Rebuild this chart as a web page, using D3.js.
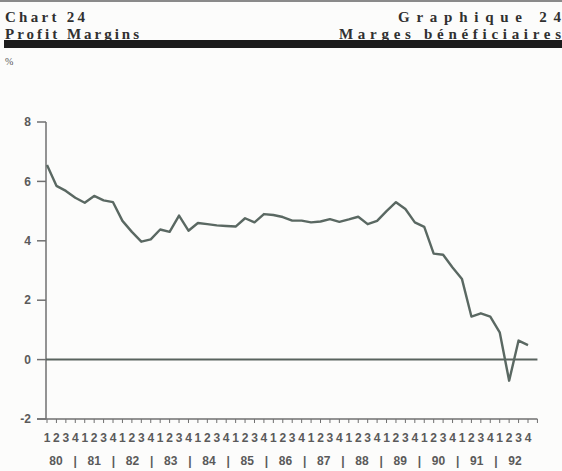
<!DOCTYPE html>
<html>
<head>
<meta charset="utf-8">
<script src="https://cdn.jsdelivr.net/npm/d3@7"></script>
<style>
  body { margin: 0; background: #fcfcfb; }
  svg { display: block; }
  .hdr { font-family: "Liberation Serif", "DejaVu Serif", serif; font-weight: bold; font-size: 15px; fill: #303030; }
  .tick-label { font-family: "Liberation Sans", Arial, sans-serif; font-weight: bold; font-size: 12px; fill: #5a5a5a; }
</style>
</head>
<body>
<script>
// quarterly profit margins, 1980Q1 .. 1992Q4 (%)
const years = ["80", "81", "82", "83", "84", "85", "86", "87", "88", "89", "90", "91", "92"];
const quarterLabels = ["1", "2", "3", "4"];
const margins = [
  6.55, 5.85, 5.68, 5.45, 5.28, 5.51, 5.36, 5.30,   // 80-81
  4.67, 4.30, 3.97, 4.05, 4.38, 4.30, 4.85, 4.34,   // 82-83
  4.60, 4.56, 4.52, 4.50, 4.48, 4.76, 4.62, 4.90,   // 84-85
  4.87, 4.80, 4.68, 4.68, 4.62, 4.65, 4.73, 4.64,   // 86-87
  4.72, 4.81, 4.56, 4.67, 5.00, 5.30, 5.07, 4.62,   // 88-89
  4.47, 3.57, 3.53, 3.10, 2.71, 1.45, 1.56, 1.45,   // 90-91
  0.92, -0.71, 0.64, 0.49                           // 92
];
const yTicks = [-2, 0, 2, 4, 6, 8];

const width = 562, height = 471;
const svg = d3.select("body").append("svg")
    .attr("width", width)
    .attr("height", height);

/* ------- HEADER -------*/
svg.append("line")
    .attr("x1", 0).attr("x2", width)
    .attr("y1", 1).attr("y2", 1)
    .attr("stroke", "#8a8a8a").attr("stroke-width", 2);

// title texts are stretched to the spans seen on the printed page
svg.append("text").attr("class", "hdr").attr("x", 5).attr("y", 22)
    .attr("textLength", 80).attr("lengthAdjust", "spacing").text("Chart 24");
svg.append("text").attr("class", "hdr").attr("x", 5).attr("y", 39)
    .attr("textLength", 134).attr("lengthAdjust", "spacing").text("Profit Margins");
svg.append("text").attr("class", "hdr").attr("x", 561).attr("y", 22)
    .style("text-anchor", "end")
    .attr("textLength", 163).attr("lengthAdjust", "spacing").text("Graphique 24");
svg.append("text").attr("class", "hdr").attr("x", 561).attr("y", 39)
    .style("text-anchor", "end")
    .attr("textLength", 222).attr("lengthAdjust", "spacing").text("Marges bénéficiaires");

svg.append("rect")
    .attr("x", 4).attr("y", 40)
    .attr("width", width - 4).attr("height", 8)
    .attr("fill", "#1c1c1c");

svg.append("text")
    .attr("x", 5).attr("y", 65)
    .style("font-family", "Liberation Serif, serif")
    .style("font-size", "10px")
    .style("fill", "#555")
    .text("%");

/* ------- SCALES -------*/
const x = d3.scaleLinear().domain([0, margins.length - 1]).range([47, 528]);
const y = d3.scaleLinear().domain([-2, 8]).range([419, 122]);
const axisColor = "#707070";

/* ------- Y AXIS -------*/
const yAxis = svg.append("g");
yAxis.append("line")
    .attr("x1", 46).attr("x2", 46)
    .attr("y1", y(8)).attr("y2", y(-2))
    .attr("stroke", axisColor).attr("stroke-width", 1.5);

yAxis.selectAll(".ytick")
    .data(yTicks)
    .enter()
    .append("line")
    .attr("x1", 37).attr("x2", 46)
    .attr("y1", d => y(d)).attr("y2", d => y(d))
    .attr("stroke", axisColor).attr("stroke-width", 1.5);

yAxis.selectAll(".ylab")
    .data(yTicks)
    .enter()
    .append("text")
    .attr("class", "tick-label")
    .attr("x", 31)
    .attr("y", d => y(d))
    .attr("dy", ".35em")
    .style("text-anchor", "end")
    .text(d => d);

/* ------- X AXIS -------*/
const nTicks = d3.range(0, margins.length + 1);
svg.append("line")
    .attr("x1", 37).attr("x2", x(margins.length))
    .attr("y1", y(-2)).attr("y2", y(-2))
    .attr("stroke", axisColor).attr("stroke-width", 1.5);

svg.selectAll(".xtick")
    .data(nTicks)
    .enter()
    .append("line")
    .attr("x1", d => x(d)).attr("x2", d => x(d))
    .attr("y1", y(-2)).attr("y2", y(-2) + 4)
    .attr("stroke", axisColor).attr("stroke-width", 1);

// quarter digits under each tick
svg.selectAll(".qlab")
    .data(margins)
    .enter()
    .append("text")
    .attr("class", "tick-label")
    .attr("x", (d, i) => x(i))
    .attr("y", 442)
    .style("text-anchor", "middle")
    .text((d, i) => quarterLabels[i % 4]);

// year labels with separators
const yearX = d3.scalePoint().domain(years).range([56, 515]);
const step = yearX.step();

svg.selectAll(".ylabel")
    .data(years)
    .enter()
    .append("text")
    .attr("class", "tick-label")
    .attr("x", d => yearX(d))
    .attr("y", 465)
    .style("text-anchor", "middle")
    .text(d => d);

svg.selectAll(".ysep")
    .data(years.slice(1))
    .enter()
    .append("text")
    .attr("class", "tick-label")
    .attr("x", d => yearX(d) - step / 2)
    .attr("y", 465)
    .style("text-anchor", "middle")
    .text("|");

/* ------- ZERO LINE -------*/
svg.append("line")
    .attr("x1", 46).attr("x2", x(margins.length))
    .attr("y1", y(0)).attr("y2", y(0))
    .attr("stroke", "#59635e").attr("stroke-width", 2);

/* ------- SERIES -------*/
const line = d3.line()
    .x((d, i) => x(i))
    .y(d => y(d));

svg.append("path")
    .datum(margins)
    .attr("d", line)
    .attr("fill", "none")
    .attr("stroke", "#5a6862")
    .attr("stroke-width", 2.4)
    .attr("stroke-linejoin", "round");
</script>
</body>
</html>
